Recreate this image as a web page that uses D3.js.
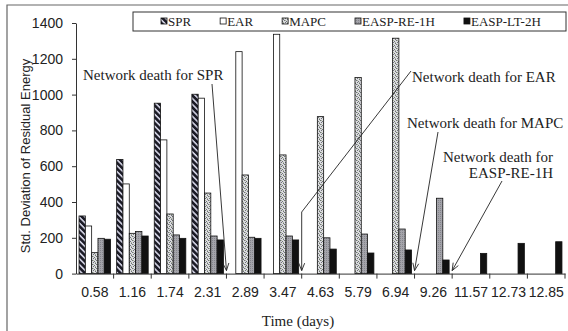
<!DOCTYPE html>
<html>
<head>
<meta charset="utf-8">
<script src="https://cdn.jsdelivr.net/npm/d3@7"></script>
<style>
    body { margin: 0; background: #fff; }
    .axis path, .axis line { stroke: #333; }
    .axis text { font-family: "Liberation Sans", Arial, sans-serif; font-size: 14px; fill: #222; }
    .serif { font-family: "Liberation Serif", "Times New Roman", serif; fill: #222; }
</style>
</head>
<body>
<div id="vis"></div>
<script>
    var categories = ["0.58", "1.16", "1.74", "2.31", "2.89", "3.47", "4.63", "5.79", "6.94", "9.26", "11.57", "12.73", "12.85"];
    var seriesNames = ["SPR", "EAR", "MAPC", "EASP-RE-1H", "EASP-LT-2H"];

    var spr = [322, 638, 952, 1002, null, null, null, null, null, null, null, null, null];
    var ear = [266, 501, 747, 980, 1240, 1337, null, null, null, null, null, null, null];
    var mapc = [117, 225, 333, 450, 551, 663, 877, 1095, 1315, null, null, null, null];
    var easpRe = [197, 235, 216, 210, 203, 210, 200, 221, 249, 421, null, null, null];
    var easpLt = [192, 210, 197, 188, 197, 188, 137, 115, 132, 76, 113, 169, 178];

    var yTicks = [0, 200, 400, 600, 800, 1000, 1200, 1400];

    // network death notes: series, index of first category with no bar
    var deaths = [
        { label: ["Network death for SPR"], at: 4 },
        { label: ["Network death for EAR"], at: 6 },
        { label: ["Network death for MAPC"], at: 9 },
        { label: ["Network death for", "EASP-RE-1H"], at: 10 }
    ];

    var allSeries = [spr, ear, mapc, easpRe, easpLt];
    var fills = ["url(#p-spr)", "#fff", "url(#p-mapc)", "url(#p-re)", "#111"];

    var width = 568,
        height = 331;

    var svg = d3.select("#vis").append("svg")
        .attr("width", width)
        .attr("height", height);

    // patterns
    var defs = svg.append("defs");

    var pSpr = defs.append("pattern")
        .attr("id", "p-spr")
        .attr("patternUnits", "userSpaceOnUse")
        .attr("width", 4.2)
        .attr("height", 4.2)
        .attr("patternTransform", "rotate(-45)");
    pSpr.append("rect").attr("width", 4.2).attr("height", 4.2).attr("fill", "#d4d4e4");
    pSpr.append("rect").attr("width", 2.6).attr("height", 4.2).attr("fill", "#1b1b26");

    var pMapc = defs.append("pattern")
        .attr("id", "p-mapc")
        .attr("patternUnits", "userSpaceOnUse")
        .attr("width", 4)
        .attr("height", 4);
    pMapc.append("rect").attr("width", 4).attr("height", 4).attr("fill", "#dcdce0");
    pMapc.append("path")
        .attr("d", "M0,0h1v1h-1z M2,1h1v1h-1z M1,2h1v1h-1z M3,3h1v1h-1z")
        .attr("fill", "#6f7378");
    pMapc.append("path")
        .attr("d", "M1,0h1v1h-1z M3,2h1v1h-1z")
        .attr("fill", "#a9b49c");

    var pRe = defs.append("pattern")
        .attr("id", "p-re")
        .attr("patternUnits", "userSpaceOnUse")
        .attr("width", 2)
        .attr("height", 2);
    pRe.append("rect").attr("width", 2).attr("height", 2).attr("fill", "#a4a4aa");
    pRe.append("rect").attr("width", 1).attr("height", 1).attr("fill", "#85858c");

    // outer frame
    svg.append("path")
        .attr("d", "M7," + height + "V5H" + width)
        .attr("fill", "none")
        .attr("stroke", "#666")
        .attr("stroke-width", 1.2);

    var plotLeft = 76,
        plotRight = 565,
        plotTop = 23,
        plotBottom = 273.6;

    var x = d3.scaleBand()
        .domain(categories)
        .range([plotLeft, plotRight])
        .paddingInner(0)
        .paddingOuter(0);

    var xSub = d3.scaleBand()
        .domain(seriesNames)
        .range([0, x.bandwidth()])
        .paddingInner(0)
        .paddingOuter(0.48);

    var y = d3.scaleLinear()
        .domain([0, 1400])
        .range([plotBottom, plotTop]);

    // bars
    var groups = svg.append("g")
        .selectAll("g")
        .data(seriesNames)
        .enter().append("g")
        .attr("fill", function(d, i) { return fills[i]; });

    groups.selectAll("rect")
        .data(function(d, i) {
            return allSeries[i].map(function(v, j) {
                return { name: d, value: v, cat: categories[j] };
            }).filter(function(e) { return e.value !== null; });
        })
        .enter().append("rect")
        .attr("x", function(d) { return x(d.cat) + xSub(d.name); })
        .attr("y", function(d) { return y(d.value); })
        .attr("width", xSub.bandwidth())
        .attr("height", function(d) { return y(0) - y(d.value); })
        .attr("stroke", "#111")
        .attr("stroke-width", 0.8);

    // y axis
    svg.append("g")
        .attr("class", "axis")
        .attr("transform", "translate(" + plotLeft + ",0)")
        .call(d3.axisLeft(y)
            .tickValues(yTicks)
            .tickFormat(d3.format("d"))
            .tickSize(4)
            .tickSizeOuter(0)
            .tickPadding(9));

    // x axis: labels centred in bands, ticks on boundaries
    var xAxis = svg.append("g")
        .attr("class", "axis")
        .attr("transform", "translate(0," + plotBottom + ")")
        .call(d3.axisBottom(x).tickSize(0).tickSizeOuter(0).tickPadding(13));

    var xEdge = d3.scaleLinear()
        .domain([0, categories.length])
        .range([plotLeft, plotRight]);

    xAxis.selectAll(".edge")
        .data(d3.range(1, categories.length + 1))
        .enter().append("line")
        .attr("class", "edge")
        .attr("x1", function(d) { return xEdge(d); })
        .attr("x2", function(d) { return xEdge(d); })
        .attr("y1", 0)
        .attr("y2", 5);

    // axis titles
    svg.append("text")
        .attr("transform", "translate(30,156) rotate(-90)")
        .attr("text-anchor", "middle")
        .style("font-family", "'Liberation Sans', Arial, sans-serif")
        .style("font-size", "13px")
        .style("fill", "#222")
        .text("Std. Deviation of Residual Energy");

    svg.append("text")
        .attr("class", "serif")
        .attr("x", 298)
        .attr("y", 326)
        .attr("text-anchor", "middle")
        .style("font-size", "15px")
        .text("Time (days)");

    // legend
    var legend = svg.append("g")
        .attr("class", "legend");

    legend.append("rect")
        .attr("x", 133)
        .attr("y", 12)
        .attr("width", 433)
        .attr("height", 19)
        .attr("fill", "#fff")
        .attr("stroke", "#333")
        .attr("stroke-width", 1);

    var lx = 161;
    seriesNames.forEach(function(name, i) {
        legend.append("rect")
            .attr("x", lx)
            .attr("y", 18)
            .attr("width", 6)
            .attr("height", 6)
            .attr("fill", fills[i])
            .attr("stroke", "#111")
            .attr("stroke-width", 0.8);
        var t = legend.append("text")
            .attr("class", "serif")
            .attr("x", lx + 7)
            .attr("y", 26)
            .style("font-size", "13px")
            .text(name);
        lx = lx + 7 + t.node().getComputedTextLength() + 29;
    });

    // network death annotations
    var notePos = [
        { tx: 83, ty: 80, anchor: "start", lx: 212, ly: 84, bend: null },
        { tx: 412, ty: 82, anchor: "start", lx: 411, ly: 71, bend: 212 },
        { tx: 407, ty: 128, anchor: "start", lx: 438, ly: 132, bend: null },
        { tx: 553, ty: 162, anchor: "end", lx: 502, ly: 181, bend: null }
    ];

    var notes = svg.append("g");

    deaths.forEach(function(d, i) {
        var p = notePos[i];
        var tipX = xEdge(d.at);
        var tipY = plotBottom - 3;
        var pts = [[p.lx, p.ly]];
        if (p.bend !== null) pts.push([tipX, p.bend]);
        pts.push([tipX, tipY]);

        notes.append("path")
            .attr("d", d3.line()(pts))
            .attr("fill", "none")
            .attr("stroke", "#222")
            .attr("stroke-width", 0.9);

        // open arrow head along last segment
        var a = pts[pts.length - 2], b = pts[pts.length - 1];
        var ang = Math.atan2(b[1] - a[1], b[0] - a[0]);
        var len = 8, spread = 0.38;
        notes.append("path")
            .attr("d", d3.line()([
                [b[0] - len * Math.cos(ang - spread), b[1] - len * Math.sin(ang - spread)],
                b,
                [b[0] - len * Math.cos(ang + spread), b[1] - len * Math.sin(ang + spread)]
            ]))
            .attr("fill", "none")
            .attr("stroke", "#222")
            .attr("stroke-width", 0.9);

        var t = notes.append("text")
            .attr("class", "serif")
            .attr("x", p.tx)
            .attr("y", p.ty)
            .attr("text-anchor", p.anchor)
            .style("font-size", "15px");
        d.label.forEach(function(line, k) {
            t.append("tspan")
                .attr("x", p.tx)
                .attr("dy", k === 0 ? 0 : 16)
                .text(line);
        });
    });
</script>
</body>
</html>
